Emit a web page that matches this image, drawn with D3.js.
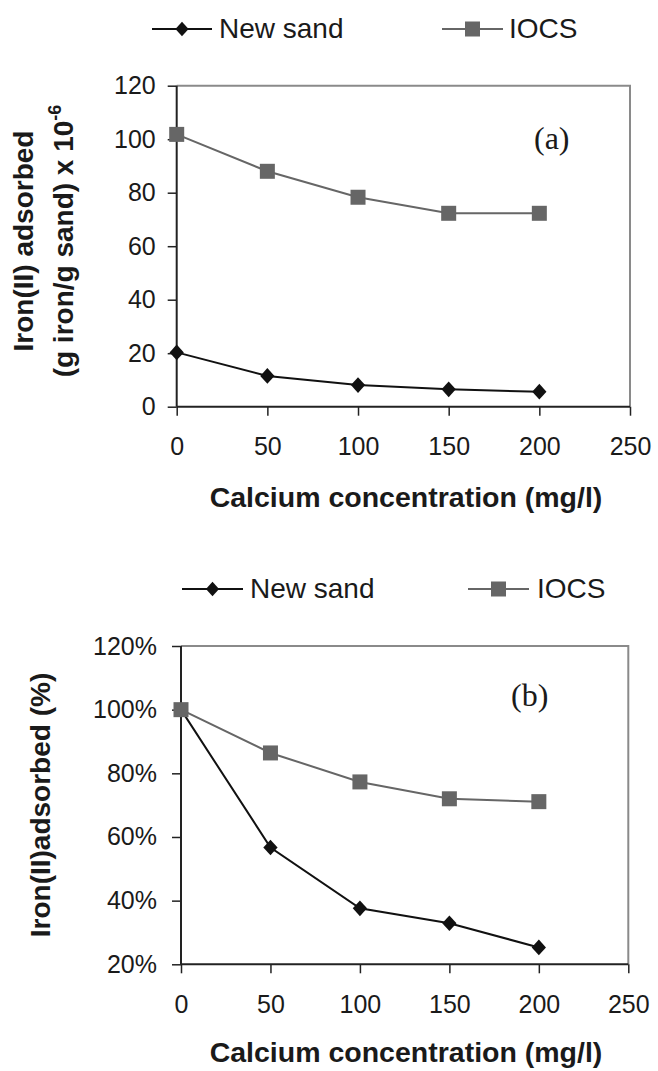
<!DOCTYPE html>
<html>
<head>
<meta charset="utf-8">
<script src="https://cdn.jsdelivr.net/npm/d3@7"></script>
<style>
  html, body { margin: 0; padding: 0; background: #fff; }
  svg { display: block; }
  text { font-family: "Liberation Sans", Arial, sans-serif; fill: #1a1a1a; }
</style>
</head>
<body>
<svg id="chart" width="658" height="1071"></svg>
<script>
// ---- Data ----
const calcium = [0, 50, 100, 150, 200];
const seriesNames = ["New sand", "IOCS"];
// Panel (a): Iron(II) adsorbed (g iron / g sand) x 10^-6
const newSandA = [20.3, 11.5, 8.1, 6.5, 5.6];
const iocsA = [101.8, 88, 78.3, 72.3, 72.3];
// Panel (b): Iron(II) adsorbed (%)
const newSandB = [100, 56.7, 37.6, 32.9, 25.3];
const iocsB = [100, 86.4, 77.3, 72, 71.1];
// Ticks
const xTicks = [0, 50, 100, 150, 200, 250];
const yTicksA = [0, 20, 40, 60, 80, 100, 120];
const yTicksB = [20, 40, 60, 80, 100, 120];
const xTitle = "Calcium concentration (mg/l)";

const svg = d3.select("#chart");
const BLACK = "#111", GREY = "#666", FRAME = "#8a8a8a", AXIS = "#222";

function legend(cfg) {
  const g = svg.append("g");
  // New sand
  g.append("line").attr("x1", cfg.l1[0]).attr("x2", cfg.l1[1]).attr("y1", cfg.ly).attr("y2", cfg.ly)
    .attr("stroke", BLACK).attr("stroke-width", 2);
  g.append("path").attr("d", d3.symbol(d3.symbolDiamond2, 110)())
    .attr("transform", `translate(${(cfg.l1[0]+cfg.l1[1])/2},${cfg.ly}) scale(1,1.1)`).attr("fill", BLACK);
  g.append("text").attr("x", cfg.t1).attr("y", cfg.by).attr("font-size", 28).text(seriesNames[0]);
  // IOCS
  g.append("line").attr("x1", cfg.l2[0]).attr("x2", cfg.l2[1]).attr("y1", cfg.ly).attr("y2", cfg.ly)
    .attr("stroke", GREY).attr("stroke-width", 2);
  const s = 15;
  g.append("rect").attr("x", (cfg.l2[0]+cfg.l2[1])/2 - s/2).attr("y", cfg.ly - s/2)
    .attr("width", s).attr("height", s).attr("fill", GREY);
  g.append("text").attr("x", cfg.t2).attr("y", cfg.by).attr("font-size", 28).text(seriesNames[1]);
}

function panel(cfg) {
  const x = d3.scaleLinear().domain([0, 250]).range([cfg.left, cfg.right]);
  const y = d3.scaleLinear().domain(cfg.yDomain).range([cfg.bottom, cfg.top]);
  const g = svg.append("g");

  // frame (top & right grey)
  g.append("path")
    .attr("d", `M${cfg.left},${cfg.top} H${cfg.right} V${cfg.bottom}`)
    .attr("fill", "none").attr("stroke", FRAME).attr("stroke-width", 2);

  // y axis
  const ya = g.append("g").attr("transform", `translate(${cfg.left},0)`)
    .call(d3.axisLeft(y).tickValues(cfg.yTicks).tickSize(9).tickPadding(cfg.yPad).tickFormat(cfg.yFmt));
  ya.select(".domain").remove();
  ya.selectAll(".tick line").attr("stroke", AXIS).attr("stroke-width", 1.5);
  ya.selectAll(".tick text").attr("font-size", 25).attr("fill", "#1a1a1a")
    .style("font-family", '"Liberation Sans", Arial, sans-serif');
  g.append("line").attr("x1", cfg.left).attr("x2", cfg.left).attr("y1", cfg.top).attr("y2", cfg.bottom)
    .attr("stroke", AXIS).attr("stroke-width", 2);

  // x axis
  const xa = g.append("g").attr("transform", `translate(0,${cfg.bottom})`)
    .call(d3.axisBottom(x).tickValues(xTicks).tickSize(9).tickPadding(22).tickFormat(d3.format("d")));
  xa.select(".domain").remove();
  xa.selectAll(".tick line").attr("stroke", AXIS).attr("stroke-width", 1.5);
  xa.selectAll(".tick text").attr("font-size", 25).attr("fill", "#1a1a1a")
    .style("font-family", '"Liberation Sans", Arial, sans-serif');
  g.append("line").attr("x1", cfg.left).attr("x2", cfg.right).attr("y1", cfg.bottom).attr("y2", cfg.bottom)
    .attr("stroke", AXIS).attr("stroke-width", 2);

  // lines
  const line = d3.line().x((d, i) => x(calcium[i])).y(d => y(d));
  g.append("path").datum(cfg.iocs).attr("d", line).attr("fill", "none").attr("stroke", GREY).attr("stroke-width", 2);
  g.append("path").datum(cfg.sand).attr("d", line).attr("fill", "none").attr("stroke", BLACK).attr("stroke-width", 2);

  // markers (diamonds first, squares on top)
  g.selectAll(".dm").data(cfg.sand).enter().append("path")
    .attr("d", d3.symbol(d3.symbolDiamond2, 130)())
    .attr("transform", (d, i) => `translate(${x(calcium[i])},${y(d)}) scale(1,1.1)`)
    .attr("fill", BLACK);
  const s = 15;
  g.selectAll(".sq").data(cfg.iocs).enter().append("rect")
    .attr("x", (d, i) => x(calcium[i]) - s/2).attr("y", d => y(d) - s/2)
    .attr("width", s).attr("height", s).attr("fill", GREY);

  // panel label
  g.append("text").attr("x", cfg.labelX).attr("y", cfg.labelY)
    .attr("font-size", 32).style("font-family", '"Liberation Serif", "Times New Roman", serif')
    .text(cfg.label);

  // x title
  g.append("text").attr("x", 406).attr("y", cfg.xTitleY).attr("text-anchor", "middle")
    .attr("font-size", 28.5).attr("font-weight", "bold").text(xTitle);

  return {x, y};
}

// Panel (a)
legend({ l1: [152, 212], l2: [442, 503], ly: 29, by: 38, t1: 219, t2: 509 });
panel({
  left: 176.7, right: 630, top: 85.7, bottom: 406.7,
  yDomain: [0, 120], yTicks: yTicksA, yPad: 12, yFmt: d3.format("d"),
  sand: newSandA, iocs: iocsA,
  label: "(a)", labelX: 534, labelY: 149, xTitleY: 507
});
// y title (a)
const yt = svg.append("g").attr("transform", "translate(0,241)");
yt.append("text").attr("transform", "translate(33,0) rotate(-90)").attr("text-anchor", "middle")
  .attr("font-size", 28).attr("font-weight", "bold").text("Iron(II) adsorbed");
const l2 = yt.append("text").attr("transform", "translate(73,0) rotate(-90)").attr("text-anchor", "middle")
  .attr("font-size", 28).attr("font-weight", "bold");
l2.append("tspan").text("(g iron/g sand) x 10");
l2.append("tspan").attr("dy", -12).attr("font-size", 18).text("-6");

// Panel (b)
legend({ l1: [182, 243], l2: [468, 529], ly: 589, by: 598, t1: 250, t2: 537 });
panel({
  left: 181, right: 628.3, top: 646, bottom: 964.3,
  yDomain: [20, 120], yTicks: yTicksB, yPad: 15, yFmt: d => d + "%",
  sand: newSandB, iocs: iocsB,
  label: "(b)", labelX: 511, labelY: 706, xTitleY: 1062
});
svg.append("text").attr("transform", "translate(50,805) rotate(-90)").attr("text-anchor", "middle")
  .attr("font-size", 28).attr("font-weight", "bold").text("Iron(II)adsorbed (%)");
</script>
</body>
</html>
